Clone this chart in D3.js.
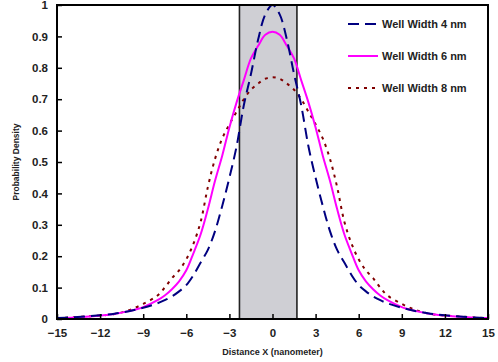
<!DOCTYPE html>
<html>
<head>
<meta charset="utf-8">
<script src="https://cdn.jsdelivr.net/npm/d3@7/dist/d3.min.js"></script>
<style>
  body { margin: 0; background: #fff; }
  svg text { font-family: "Liberation Sans", Arial, sans-serif; font-weight: bold; }
</style>
</head>
<body>
<div class="chart"></div>
<script>
// distance (nm) where the curves were read
const xs = [-15, -14, -13, -12, -11, -10, -9, -8, -7.5, -7, -6.5, -6, -5.5, -5, -4.5, -4, -3.5, -3, -2.5, -2, -1.5, -1, -0.5,
            0, 0.5, 1, 1.5, 2, 2.5, 3, 3.5, 4, 4.5, 5, 5.5, 6, 6.5, 7, 7.5, 8, 9, 10, 11, 12, 13, 14, 15];

const well4 = [0.003, 0.005, 0.008, 0.012, 0.017, 0.025, 0.036, 0.05, 0.06, 0.072, 0.088, 0.108, 0.14, 0.18, 0.22, 0.28, 0.36, 0.45, 0.55, 0.68, 0.78, 0.89, 0.97,
               1.0, 0.97, 0.89, 0.78, 0.68, 0.55, 0.45, 0.36, 0.28, 0.22, 0.18, 0.14, 0.108, 0.088, 0.072, 0.06, 0.05, 0.036, 0.025, 0.017, 0.012, 0.008, 0.005, 0.003];

const well6 = [0.003, 0.004, 0.007, 0.011, 0.016, 0.025, 0.038, 0.06, 0.075, 0.095, 0.12, 0.155, 0.21, 0.27, 0.35, 0.44, 0.52, 0.61, 0.69, 0.76, 0.83, 0.87, 0.905,
               0.915, 0.905, 0.87, 0.83, 0.76, 0.69, 0.61, 0.52, 0.44, 0.35, 0.27, 0.21, 0.155, 0.12, 0.095, 0.075, 0.06, 0.038, 0.025, 0.016, 0.011, 0.007, 0.004, 0.003];

const well8 = [0.003, 0.005, 0.008, 0.011, 0.016, 0.028, 0.048, 0.075, 0.1, 0.13, 0.155, 0.19, 0.24, 0.31, 0.42, 0.51, 0.575, 0.62, 0.66, 0.70, 0.73, 0.75, 0.765,
               0.77, 0.765, 0.75, 0.73, 0.70, 0.66, 0.62, 0.575, 0.51, 0.42, 0.31, 0.24, 0.19, 0.155, 0.13, 0.1, 0.075, 0.048, 0.028, 0.016, 0.011, 0.008, 0.005, 0.003];

const xTicks = [-15, -12, -9, -6, -3, 0, 3, 6, 9, 12, 15];
const yTicks = [0, 0.1, 0.2, 0.3, 0.4, 0.5, 0.6, 0.7, 0.8, 0.9, 1];
const wellBox = [-2.3, 1.7];

const seriesNames = ["Well Width 4 nm", "Well Width 6 nm", "Well Width 8 nm"];
const seriesValues = [well4, well6, well8];
const seriesColors = ["#000080", "#ff00ff", "#800000"];
const seriesDash = ["11,6", null, "3,5"];

const width = 498, height = 362;
const plotLeft = 57, plotRight = 488, plotTop = 5, plotBottom = 319;

const svg = d3.select(".chart").append("svg")
  .attr("width", width)
  .attr("height", height);

const x = d3.scaleLinear().domain([-15, 15]).range([plotLeft, plotRight]);
const y = d3.scaleLinear().domain([0, 1]).range([plotBottom, plotTop]);

// shaded well region
svg.append("rect")
  .attr("x", x(wellBox[0]))
  .attr("y", y(1))
  .attr("width", x(wellBox[1]) - x(wellBox[0]))
  .attr("height", y(0) - y(1))
  .attr("fill", "#cfcfd4")
  .attr("stroke", "#222")
  .attr("stroke-width", 1.6);

const line = d3.line()
  .x((d, i) => x(xs[i]))
  .y(d => y(d))
  .curve(d3.curveCatmullRom);

// draw 8nm first so 4nm sits on top
[2, 1, 0].forEach(k => {
  svg.append("path")
    .datum(seriesValues[k])
    .attr("d", line)
    .attr("fill", "none")
    .attr("stroke", seriesColors[k])
    .attr("stroke-width", 2)
    .attr("stroke-dasharray", seriesDash[k]);
});

// frame
svg.append("rect")
  .attr("x", plotLeft)
  .attr("y", plotTop)
  .attr("width", plotRight - plotLeft)
  .attr("height", plotBottom - plotTop)
  .attr("fill", "none")
  .attr("stroke", "#000")
  .attr("stroke-width", 2);

const xAxis = d3.axisBottom(x).tickValues(xTicks).tickSizeInner(-5).tickSizeOuter(0).tickPadding(10);
const yAxis = d3.axisLeft(y).tickValues(yTicks).tickSizeInner(-5).tickSizeOuter(0).tickPadding(9)
  .tickFormat(d => d === 0 || d === 1 ? d : d3.format(".1f")(d));

const gx = svg.append("g")
  .attr("transform", "translate(0," + plotBottom + ")")
  .call(xAxis);
const gy = svg.append("g")
  .attr("transform", "translate(" + plotLeft + ",0)")
  .call(yAxis);

[gx, gy].forEach(g => {
  g.select(".domain").remove();
  g.selectAll("line").attr("stroke", "#000").attr("stroke-width", 1.5);
  g.selectAll("text")
    .attr("fill", "#222")
    .style("font-size", "11.5px")
    .style("font-family", "'Liberation Sans', Arial, sans-serif")
    .style("font-weight", "bold");
});

svg.append("text")
  .attr("x", x(0))
  .attr("y", 355)
  .attr("text-anchor", "middle")
  .attr("fill", "#222")
  .style("font-size", "9px")
  .text("Distance X (nanometer)");

svg.append("text")
  .attr("transform", "rotate(-90)")
  .attr("x", -(plotTop + plotBottom) / 2)
  .attr("y", 19)
  .attr("text-anchor", "middle")
  .attr("fill", "#222")
  .style("font-size", "8.5px")
  .text("Probability Density");

// legend
const legend = svg.append("g");
seriesNames.forEach((name, k) => {
  const ly = 24 + k * 32;
  legend.append("line")
    .attr("x1", 348).attr("x2", 378)
    .attr("y1", ly).attr("y2", ly)
    .attr("stroke", seriesColors[k])
    .attr("stroke-width", 2)
    .attr("stroke-dasharray", seriesDash[k]);
  legend.append("text")
    .attr("x", 382)
    .attr("y", ly + 4)
    .attr("fill", "#222")
    .style("font-size", "11px")
    .text(name);
});
</script>
</body>
</html>
